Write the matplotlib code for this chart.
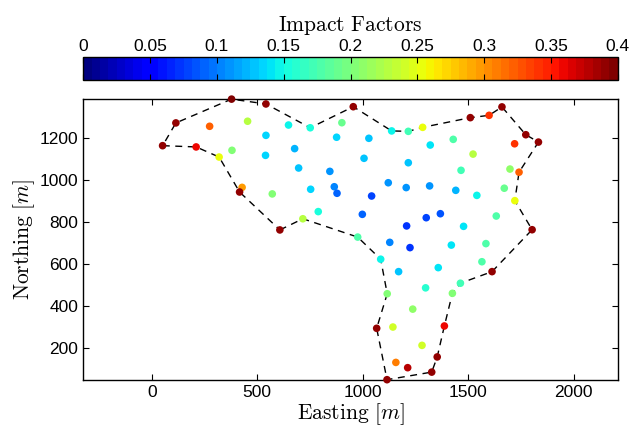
import numpy as np
import matplotlib
matplotlib.use('Agg')
import matplotlib.pyplot as plt
from matplotlib.colors import Normalize

plt.rcParams['font.family'] = ['Liberation Sans', 'DejaVu Sans']
plt.rcParams['mathtext.fontset'] = 'cm'

# well locations (easting, northing) and impact factor
east = [378, 541, 114, 274, 454, 648, 751, 901, 955, 541,
        876, 51, 210, 319, 380, 539, 677, 696, 844, 428,
        416, 571, 753, 865, 878, 789, 716, 607, 976, 998,
        1137, 1216, 1284, 1510, 1599, 1660, 1773, 1833, 1720, 1029,
        1320, 1429, 1523, 1006, 1216, 1466, 1698, 1741, 1121, 1206,
        1317, 1441, 1541, 1671, 1721, 1042, 1301, 1368, 1208, 1478,
        1633, 1803, 1128, 1224, 1420, 1584, 1085, 1170, 1358, 1565,
        1613, 1463, 1298, 1116, 1425, 1237, 1066, 1143, 1387, 1281,
        1353, 1157, 1213, 1327, 1115]
north = [1383, 1360, 1270, 1254, 1278, 1260, 1247, 1271, 1347, 1211,
         1202, 1162, 1156, 1108, 1140, 1116, 1148, 1056, 1040, 964,
         942, 933, 955, 967, 936, 849, 815, 762, 728, 836,
         1232, 1230, 1249, 1295, 1306, 1346, 1214, 1179, 1171, 1197,
         1165, 1192, 1122, 1102, 1081, 1045, 1051, 1036, 986, 963,
         971, 950, 926, 960, 901, 923, 820, 839, 781, 779,
         828, 763, 703, 678, 690, 697, 623, 564, 583, 611,
         564, 509, 487, 459, 461, 386, 295, 301, 306, 214,
         159, 133, 108, 87, 51]
impact = [0.40, 0.39, 0.39, 0.32, 0.23, 0.15, 0.155, 0.19, 0.39, 0.135,
          0.135, 0.39, 0.36, 0.25, 0.20, 0.135, 0.12, 0.13, 0.11, 0.30,
          0.39, 0.20, 0.135, 0.10, 0.09, 0.155, 0.225, 0.39, 0.18, 0.09,
          0.15, 0.17, 0.25, 0.39, 0.34, 0.39, 0.39, 0.39, 0.34, 0.13,
          0.14, 0.18, 0.23, 0.13, 0.13, 0.17, 0.21, 0.32, 0.11, 0.11,
          0.11, 0.12, 0.15, 0.19, 0.25, 0.08, 0.08, 0.085, 0.07, 0.14,
          0.18, 0.39, 0.10, 0.07, 0.14, 0.18, 0.15, 0.13, 0.14, 0.18,
          0.39, 0.17, 0.16, 0.20, 0.20, 0.21, 0.39, 0.24, 0.36, 0.24,
          0.39, 0.31, 0.38, 0.39, 0.39]

# field boundary
bnd_east = [607, 716, 976, 1085, 1116, 1066, 1115, 1327, 1353, 1387,
            1425, 1463, 1613, 1803, 1721, 1741, 1833, 1773, 1660, 1599,
            1510, 1284, 1216, 1137, 955, 751, 541, 378, 114, 51,
            210, 319, 416, 607]
bnd_north = [762, 815, 728, 623, 459, 295, 51, 87, 159, 306,
             461, 509, 564, 763, 901, 1036, 1179, 1214, 1346, 1306,
             1295, 1249, 1230, 1232, 1347, 1247, 1360, 1383, 1270, 1162,
             1156, 1108, 942, 762]

cb_ticks = [0, 0.05, 0.1, 0.15, 0.2, 0.25, 0.3, 0.35, 0.4]
cb_labels = ['0', '0.05', '0.1', '0.15', '0.2', '0.25', '0.3', '0.35', '0.4']

cmap = plt.get_cmap('jet', 64)
norm = Normalize(vmin=0, vmax=0.4)

fig = plt.figure(figsize=(6.31, 4.30), dpi=100)
ax = fig.add_axes([0.132, 0.117, 0.847, 0.652])

ax.plot(bnd_east, bnd_north, color='black', lw=1, linestyle=(0, (5, 4)), zorder=1)
sc = ax.scatter(east, north, c=impact, cmap=cmap, norm=norm, s=30,
                edgecolors='none', zorder=3, clip_on=False)

ax.set_xlim(-325, 2209)
ax.set_ylim(51, 1382)
ax.set_xticks([0, 500, 1000, 1500, 2000])
ax.set_yticks([200, 400, 600, 800, 1000, 1200])
ax.tick_params(direction='in', top=True, right=True, length=4, labelsize=12.5, width=0.8)
for s in ax.spines.values():
    s.set_linewidth(1.0)
ax.set_xlabel(r'$\mathrm{Easting}\ [m]$', fontsize=15.5, labelpad=1)
ax.set_ylabel(r'$\mathrm{Northing}\ [m]$', fontsize=15.5, labelpad=2)

# colorbar on top
cax = fig.add_axes([0.132, 0.814, 0.847, 0.054])
cb = fig.colorbar(sc, cax=cax, orientation='horizontal', ticks=cb_ticks)
cb.ax.set_xticklabels(cb_labels)
cax.tick_params(axis='x', which='both', direction='in', top=True, bottom=True,
                labeltop=True, labelbottom=False, length=4, labelsize=12.5, pad=2)
cb.outline.set_linewidth(1.0)
cax.xaxis.set_label_position('top')
cb.set_label(r'$\mathrm{Impact\ Factors}$', fontsize=15.5, labelpad=6)

fig.savefig('out.png', dpi=100)
